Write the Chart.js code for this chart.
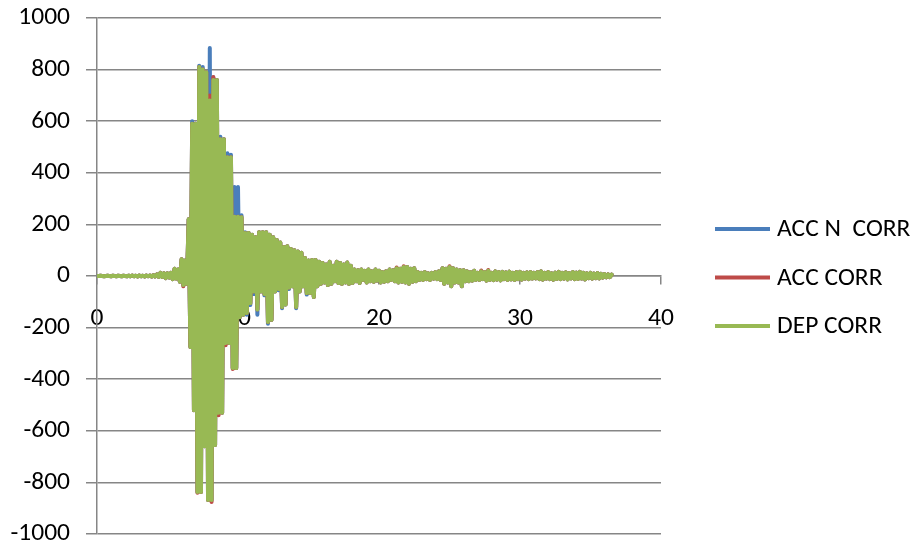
<!DOCTYPE html>
<html>
<head>
<meta charset="utf-8">
<script src="https://cdn.jsdelivr.net/npm/chart.js@4"></script>
<style>
  html, body { margin: 0; padding: 0; background: #fff; }
</style>
</head>
<body>
<canvas id="chart" width="914" height="547"></canvas>
<script>
// sample step of the record (s), one row below = 1 s
const dt = 0.125;

const seriesNames = ['ACC N  CORR', 'ACC CORR', 'DEP CORR'];
const seriesColors = ['#4a7ebb', '#be4b48', '#98b954'];

const accNCorr = [
  0, 0, 1, 0, -1, 0, 1, 0,
  -1, 1, 0, -1, 1, 0, -1, 1,
  0, -1, 1, -1, 2, -1, 1, -2,
  2, -1, 1, -2, 2, -1, 2, -2,
  3, -2, 6, -3, 12, -4, 10, -8,
  10, -6, 12, -12, 28, -10, 25, -22,
  65, -35, 60, -30, 220, -275, 600, -520,
  590, -837, 815, -837, 810, -660, 790, -868,
  884, -868, 770, -655, 760, -530, 540, -530,
  530, -260, 476, -260, 470, -357, 345, -357,
  345, -160, 235, -150, 170, -150, 167, -112,
  160, -70, 150, -150, 170, -60, 170, -75,
  170, -185, 160, -170, 150, -60, 140, -55,
  130, -125, 112, -110, 115, -50, 105, -40,
  100, -125, 95, -60, 90, -40, 70, -72,
  60, -66, 62, -81, 62, -40, 55, -30,
  50, -25, 45, -35, 55, -30, 40, -20,
  55, -27, 50, -30, 45, -25, 52, -30,
  40, -27, 25, -20, 22, -27, 25, -15,
  20, -25, 25, -20, 18, -22, 25, -18,
  20, -25, 15, -22, 18, -20, 25, -15,
  22, -20, 30, -25, 28, -22, 35, -25,
  35, -30, 28, -22, 30, -20, 15, -15,
  12, -15, 15, -12, 10, -15, 12, -10,
  15, -12, 18, -15, 30, -30, 28, -25,
  35, -40, 30, -25, 25, -25, 22, -40,
  22, -20, 18, -20, 15, -18, 20, -15,
  12, -15, 18, -12, 15, -18, 20, -15,
  12, -16, 18, -14, 15, -17, 16, -12,
  14, -15, 17, -13, 12, -15, 15, -12,
  16, -14, 12, -10, 14, -12, 15, -10,
  12, -9, 15, -12, 18, -14, 12, -10,
  15, -12, 10, -14, 13, -11, 16, -12,
  12, -10, 14, -13, 11, -9, 15, -12,
  13, -11, 16, -10, 12, -13, 10, -8,
  12, -10, 9, -8, 11, -9, 8, -6,
  7, -5, 6, -4, 5
];

const accCorr = [
  0, 0, 1, 0, -1, 0, 1, 0,
  -1, 1, 0, -1, 1, 0, -1, 1,
  0, -1, 1, -1, 2, -1, 1, -2,
  2, -1, 1, -2, 2, -1, 2, -2,
  3, -2, 6, -3, 12, -4, 10, -8,
  10, -6, 12, -12, 28, -10, 25, -22,
  65, -40, 60, -30, 220, -275, 590, -520,
  590, -840, 810, -837, 800, -660, 790, -868,
  700, -876, 771, -655, 760, -540, 530, -530,
  530, -268, 460, -260, 460, -360, 230, -357,
  230, -160, 228, -150, 167, -143, 167, -105,
  160, -60, 150, -130, 170, -60, 170, -70,
  170, -178, 160, -170, 150, -60, 140, -50,
  130, -120, 112, -110, 115, -45, 105, -40,
  100, -120, 95, -60, 90, -40, 70, -66,
  60, -66, 62, -81, 62, -40, 55, -30,
  50, -25, 45, -35, 55, -30, 40, -20,
  55, -27, 50, -30, 45, -25, 52, -30,
  40, -27, 25, -20, 22, -27, 25, -15,
  20, -25, 25, -20, 18, -22, 25, -18,
  20, -25, 15, -22, 18, -20, 25, -15,
  22, -20, 33, -25, 28, -22, 38, -25,
  35, -30, 28, -22, 30, -20, 15, -15,
  12, -15, 15, -12, 10, -15, 12, -10,
  15, -12, 18, -15, 30, -30, 28, -25,
  38, -40, 30, -25, 25, -25, 22, -40,
  22, -20, 18, -20, 15, -18, 20, -15,
  12, -15, 21, -12, 15, -18, 23, -15,
  12, -16, 18, -14, 15, -17, 16, -12,
  14, -15, 17, -13, 12, -15, 15, -12,
  16, -14, 12, -10, 14, -12, 15, -10,
  12, -9, 15, -12, 18, -14, 12, -10,
  15, -12, 10, -14, 13, -11, 16, -12,
  12, -10, 14, -13, 11, -9, 15, -12,
  13, -11, 16, -10, 12, -13, 10, -8,
  12, -10, 9, -8, 11, -9, 8, -6,
  7, -5, 6, -4, 5
];

const depCorr = [
  0, 0, 1, 0, -1, 0, 1, 0,
  -1, 1, 0, -1, 1, 0, -1, 1,
  0, -1, 1, -1, 2, -1, 1, -2,
  2, -1, 1, -2, 2, -1, 2, -2,
  3, -2, 6, -3, 12, -4, 10, -8,
  10, -6, 12, -12, 28, -10, 25, -22,
  65, -35, 60, -30, 220, -275, 590, -520,
  590, -837, 810, -837, 800, -660, 790, -868,
  680, -868, 760, -655, 760, -530, 530, -530,
  530, -260, 460, -260, 460, -357, 230, -357,
  230, -160, 228, -150, 167, -143, 167, -105,
  160, -60, 150, -130, 170, -60, 170, -70,
  170, -178, 160, -170, 150, -60, 140, -50,
  130, -120, 112, -110, 115, -45, 105, -40,
  100, -120, 95, -60, 90, -40, 70, -66,
  60, -66, 62, -81, 62, -40, 55, -30,
  50, -25, 45, -35, 55, -30, 40, -20,
  55, -27, 50, -30, 45, -25, 52, -30,
  40, -27, 25, -20, 22, -27, 25, -15,
  20, -25, 25, -20, 18, -22, 25, -18,
  20, -25, 15, -22, 18, -20, 25, -15,
  22, -20, 30, -25, 28, -22, 35, -25,
  35, -30, 28, -22, 30, -20, 15, -15,
  12, -15, 15, -12, 10, -15, 12, -10,
  15, -12, 18, -15, 30, -30, 28, -25,
  35, -40, 30, -25, 25, -25, 22, -40,
  22, -20, 18, -20, 15, -18, 20, -15,
  12, -15, 18, -12, 15, -18, 20, -15,
  12, -16, 18, -14, 15, -17, 16, -12,
  14, -15, 17, -13, 12, -15, 15, -12,
  16, -14, 12, -10, 14, -12, 15, -10,
  12, -9, 15, -12, 18, -14, 12, -10,
  15, -12, 10, -14, 13, -11, 16, -12,
  12, -10, 14, -13, 11, -9, 15, -12,
  13, -11, 16, -10, 12, -13, 10, -8,
  12, -10, 9, -8, 11, -9, 8, -6,
  7, -5, 6, -4, 5
];

const time = depCorr.map((_, i) => i * dt);
const toPoints = vals => vals.map((v, i) => ({ x: time[i], y: v }));

const gridGray = '#868686';
// Carlito is metric compatible with Calibri, which Excel used here
const fontFamily = 'Carlito, Lato, sans-serif';
const legendFont = '25.5px ' + fontFamily;
const tickFont = { family: fontFamily, size: 25.5 };
const lineWidth = 4;

// legend drawn by hand on the right, Excel style
const sideLegend = {
    id: 'sideLegend',
    afterDraw(chart) {
        const ctx = chart.ctx;
        ctx.save();
        ctx.font = legendFont;
        ctx.textBaseline = 'middle';
        chart.data.datasets.forEach((ds, i) => {
            const y = 229 + i * 48.5;
            ctx.strokeStyle = ds.borderColor;
            ctx.lineWidth = 4;
            ctx.beginPath();
            ctx.moveTo(715, y);
            ctx.lineTo(770, y);
            ctx.stroke();
            ctx.fillStyle = '#000';
            ctx.fillText(ds.label, 777, y + 1);
        });
        ctx.restore();
    }
};

new Chart(document.getElementById('chart'), {
    type: 'line',
    data: {
        datasets: [
            { label: seriesNames[0], data: toPoints(accNCorr), borderColor: seriesColors[0], backgroundColor: seriesColors[0], borderWidth: lineWidth, order: 3 },
            { label: seriesNames[1], data: toPoints(accCorr), borderColor: seriesColors[1], backgroundColor: seriesColors[1], borderWidth: lineWidth, order: 2 },
            { label: seriesNames[2], data: toPoints(depCorr), borderColor: seriesColors[2], backgroundColor: seriesColors[2], borderWidth: lineWidth, order: 1 }
        ]
    },
    options: {
        responsive: false,
        animation: false,
        layout: { padding: { top: 18, right: 253, bottom: 13, left: 0 } },
        elements: {
            point: { radius: 0 },
            line: { borderJoinStyle: 'round', borderCapStyle: 'round', tension: 0 }
        },
        plugins: { legend: { display: false }, tooltip: { enabled: false } },
        scales: {
            x: {
                type: 'linear',
                position: { y: 0 },
                min: 0, max: 40,
                ticks: { stepSize: 10, padding: 19, color: '#000', font: tickFont, callback: v => String(v) },
                grid: { drawOnChartArea: false, tickLength: 8, color: gridGray, lineWidth: 1.5 },
                border: { color: gridGray, width: 1.5 },
                afterFit: s => { s.height = 0; s.paddingLeft = 0; s.paddingRight = 0; }
            },
            y: {
                min: -1000, max: 1000,
                ticks: { stepSize: 200, padding: 16, color: '#000', font: tickFont, callback: v => String(v) },
                grid: { tickLength: 11, color: gridGray, lineWidth: 1.5 },
                border: { color: gridGray, width: 1.5 },
                afterFit: s => { s.width = 97; s.paddingTop = 0; s.paddingBottom = 0; }
            }
        }
    },
    plugins: [sideLegend]
});
</script>
</body>
</html>
